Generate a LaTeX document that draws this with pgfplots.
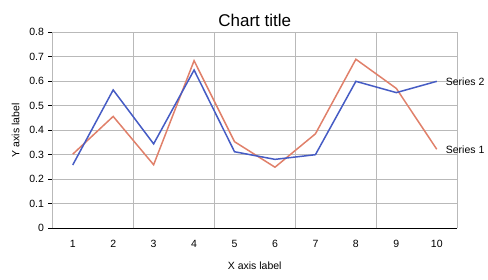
\documentclass[border=0pt]{standalone}
\usepackage{pgfplots}
\pgfplotsset{compat=1.18}
\usepackage{fontspec}
\setmainfont{Liberation Sans}
\definecolor{sblue}{RGB}{70,92,196}
\definecolor{sorange}{RGB}{224,128,106}
\definecolor{gridgray}{RGB}{185,185,185}
\begin{document}
\begin{tikzpicture}
\useasboundingbox (-52.5pt,-50.7pt) rectangle (435.5pt,228.3pt);
\begin{axis}[
  scale only axis,
  width=404.5pt, height=196.3pt,
  at={(0,0)}, anchor=south west,
  xmin=0.5, xmax=10.5, ymin=0, ymax=0.8,
  axis x line*=bottom, axis y line*=left,
  axis line style={-, black, line width=0.8pt},
  xtick={1,2,3,4,5,6,7,8,9,10},
  xticklabels={1,2,3,4,5,6,7,8,9,10},
  x tick style={draw=none},
  extra x ticks={0.5,2.5,4.5,6.5,8.5,10.5},
  extra x tick labels={},
  extra x tick style={grid=major, tick style={draw=black, line width=0.8pt}, major tick length=4pt, tick align=outside},
  ytick={0,0.1,...,0.8},
  ymajorgrids,
  y tick style={black, line width=0.8pt},
  major tick length=4pt, tick align=outside,
  grid style={gridgray, line width=0.6pt},
  /pgf/number format/assume math mode=true,
  ticklabel style={font=\fontsize{10.5}{12}\selectfont},
  xticklabel style={yshift=-4pt},
  yticklabel style={xshift=-1pt},
  title={Chart title},
  title style={font=\fontsize{17}{20}\selectfont, yshift=-4pt},
  xlabel={X axis label},
  ylabel={Y axis label},
  label style={font=\fontsize{10.5}{12}\selectfont},
  xlabel style={yshift=0pt},
  ylabel style={yshift=3pt},
  clip=false,
]
\addplot[sorange, line width=1.5pt] coordinates {
(1,0.302) (2,0.456) (3,0.259) (4,0.683) (5,0.353) (6,0.249) (7,0.385) (8,0.689) (9,0.57) (10,0.322)}
node[anchor=west, black, font=\fontsize{10.5}{12}\selectfont, xshift=5pt] {Series 1};
\addplot[sblue, line width=1.5pt] coordinates {
(1,0.258) (2,0.564) (3,0.344) (4,0.645) (5,0.312) (6,0.281) (7,0.30) (8,0.599) (9,0.553) (10,0.599)}
node[anchor=west, black, font=\fontsize{10.5}{12}\selectfont, xshift=5pt] {Series 2};
\end{axis}
\end{tikzpicture}
\end{document}
